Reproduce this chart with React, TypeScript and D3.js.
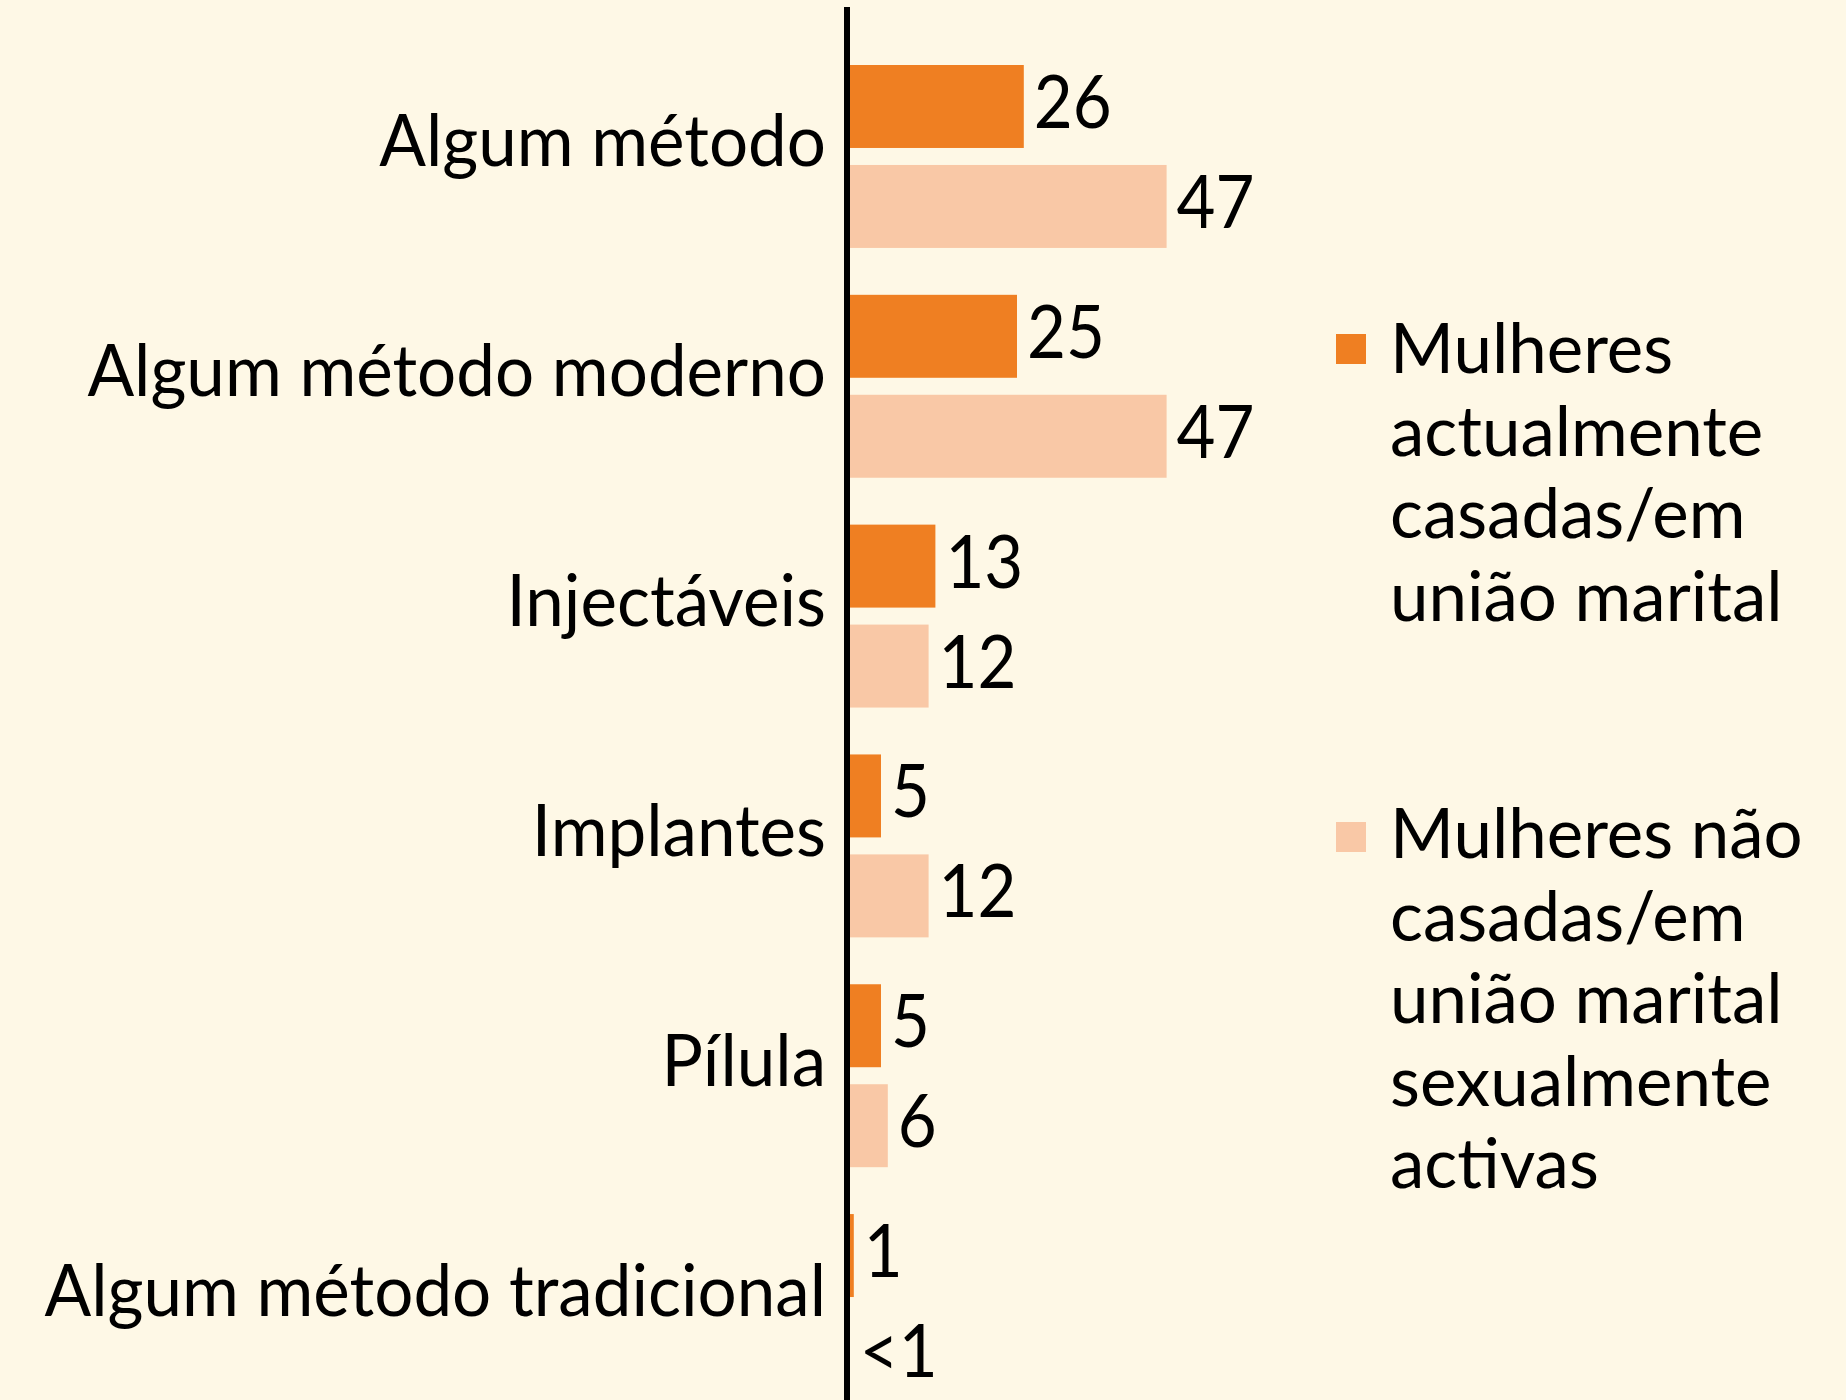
import React from "react";
import * as d3 from "d3";

const categories = [
  "Algum método",
  "Algum método moderno",
  "Injectáveis",
  "Implantes",
  "Pílula",
  "Algum método tradicional",
];
const seriesKeys = ["casadas", "naoCasadas"];
const casadas = [26, 25, 13, 5, 5, 1];
const naoCasadas = [47, 47, 12, 12, 6, 0.4];
const legendCasadas = ["Mulheres", "actualmente", "casadas/em", "união marital"];
const legendNaoCasadas = ["Mulheres não", "casadas/em", "união marital", "sexualmente", "activas"];

const W = 1846;
const H = 1400;
const BG = "#FEF8E6";
const ORANGE = "#EF7F22";
const PEACH = "#F9C8A6";
const FONT = "Lato, 'Open Sans', sans-serif";

export default function App() {
  const y = d3.scaleBand<string>().domain(categories).range([65, 1397]).paddingInner(0.204).paddingOuter(0);
  const yInner = d3.scaleBand<string>().domain(seriesKeys).range([0, y.bandwidth()]).paddingInner(0.17);
  const x = d3.scaleLinear().domain([0, 47]).range([847, 847 + 47 * 6.8]);
  const colors: Record<string, string> = { casadas: ORANGE, naoCasadas: PEACH };
  const values: Record<string, number[]> = { casadas, naoCasadas };
  const fmt = (v: number) => (v < 1 ? "<1" : String(v));

  const legends = [
    { key: "casadas", lines: legendCasadas, baseline: 373, square: 334 },
    { key: "naoCasadas", lines: legendNaoCasadas, baseline: 858, square: 822 },
  ];
  const labelX = 826;

  return (
    <svg width={W} height={H} style={{ position: "absolute", left: 0, top: 0, display: "block" }} fontFamily={FONT} fontWeight={400}>
      <rect x={0} y={0} width={W} height={H} fill={BG} />
      {categories.map((c, i) => (
        <g key={c}>
          {seriesKeys.map((k) => {
            const v = values[k][i];
            const by = (y(c) as number) + (yInner(k) as number);
            const bh = yInner.bandwidth();
            const tx = x(v) + 10;
            return (
              <g key={k}>
                <rect x={x(0)} y={by} width={x(v) - x(0)} height={bh} fill={colors[k]} />
                <text
                  x={tx}
                  y={by + bh - 20}
                  fontSize={73}
                  fill="#000"
                  transform={`translate(${tx},0) scale(0.92,1) translate(${-tx},0)`}
                >
                  {fmt(v)}
                </text>
              </g>
            );
          })}
          <text
            x={labelX}
            y={(y(c) as number) + y.bandwidth() / 2 + 10}
            fontSize={72}
            textAnchor="end"
            fill="#000"
            transform={`translate(${labelX},0) scale(0.96,1) translate(${-labelX},0)`}
          >
            {c}
          </text>
        </g>
      ))}
      <line x1={847} x2={847} y1={7} y2={H} stroke="#000" strokeWidth={6} />
      {legends.map((l) => (
        <g key={l.key}>
          <rect x={1336} y={l.square} width={30} height={30} fill={colors[l.key]} />
          {l.lines.map((t, j) => (
            <text key={j} x={1390} y={l.baseline + j * 82.5} fontSize={69} fill="#000">
              {t}
            </text>
          ))}
        </g>
      ))}
    </svg>
  );
}
